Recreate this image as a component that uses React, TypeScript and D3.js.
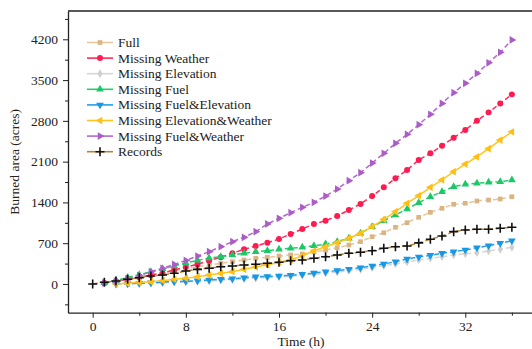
import {useEffect, useRef} from "react";
import * as d3 from "d3";

const SvgWidth = 532;
const SvgHeight = 349;

// hours 0..36, null where the series has no point
const hours = d3.range(0, 37);

const fullVals = [null, 12, 42, 78, 115, 155, 192, 228, 262, 295, 326, 355, 383, 412, 441, 458, 480, 498, 515, 554, 583, 623, 669, 726, 812, 880, 973, 1052, 1145, 1230, 1299, 1368, 1385, 1424, 1441, 1459, 1498];
const weatherVals = [null, 15, 45, 80, 115, 150, 190, 240, 290, 340, 400, 460, 527, 595, 652, 709, 772, 858, 944, 1030, 1086, 1167, 1270, 1373, 1510, 1659, 1814, 1956, 2130, 2243, 2373, 2511, 2643, 2802, 2946, 3100, 3255];
const elevationVals = [null, null, 0, 3, 8, 15, 22, 30, 36, 45, 55, 64, 75, 88, 102, 110, 120, 132, 148, 166, 186, 205, 228, 252, 280, 310, 345, 378, 412, 440, 468, 498, 520, 537, 566, 595, 630];
const fuelVals = [null, 20, 60, 110, 160, 210, 260, 310, 360, 405, 445, 468, 498, 527, 554, 571, 595, 613, 630, 655, 686, 726, 784, 870, 983, 1086, 1184, 1287, 1395, 1498, 1584, 1670, 1711, 1728, 1745, 1756, 1785];
const fuelElevVals = [null, null, 0, 5, 12, 22, 32, 40, 46, 57, 69, 80, 91, 108, 125, 130, 137, 150, 166, 188, 211, 230, 255, 280, 309, 343, 383, 429, 463, 492, 527, 554, 583, 623, 657, 698, 743];
const elevWeatherVals = [null, null, 0, 12, 29, 40, 57, 81, 98, 125, 154, 184, 211, 252, 290, 330, 370, 415, 480, 570, 640, 709, 784, 870, 983, 1110, 1241, 1385, 1515, 1659, 1785, 1927, 2059, 2184, 2322, 2471, 2613];
const fuelWeatherVals = [null, 20, 50, 90, 145, 211, 270, 335, 405, 480, 554, 640, 726, 801, 898, 1030, 1127, 1224, 1316, 1402, 1510, 1630, 1773, 1910, 2075, 2243, 2414, 2569, 2735, 2912, 3100, 3283, 3444, 3615, 3797, 3976, 4190];
const recordVals = [0, 29, 51, 81, 108, 137, 154, 184, 223, 250, 269, 297, 309, 326, 338, 355, 372, 400, 412, 441, 468, 498, 527, 544, 571, 613, 640, 652, 705, 767, 824, 898, 927, 939, 939, 956, 973];

const yMajor = [0, 700, 1400, 2100, 2800, 3500, 4200];
const yMinor = [-350, 350, 1050, 1750, 2450, 3150, 3850, 4550];
const xMajor = [0, 8, 16, 24, 32];
const xMinor = [4, 12, 20, 28, 36];

const series = [
    {name: "Full", values: fullVals, line: "#e6c69c", fill: "#dbb483", shape: "square", dash: "5,3"},
    {name: "Missing Weather", values: weatherVals, line: "#ff2a5a", fill: "#ff1a4f", shape: "circle", dash: "5,3"},
    {name: "Missing Elevation", values: elevationVals, line: "#d6d6d6", fill: "#cfcfcf", shape: "diamond", dash: "5,3"},
    {name: "Missing Fuel", values: fuelVals, line: "#22cf6d", fill: "#1cc866", shape: "up", dash: "5,3"},
    {name: "Missing Fuel&Elevation", values: fuelElevVals, line: "#22a0ea", fill: "#1797e4", shape: "down", dash: "5,3"},
    {name: "Missing Elevation&Weather", values: elevWeatherVals, line: "#ffc51f", fill: "#ffbf14", shape: "left", dash: null},
    {name: "Missing Fuel&Weather", values: fuelWeatherVals, line: "#b469cc", fill: "#ab5cc6", shape: "right", dash: "5,3"},
    {name: "Records", values: recordVals, line: "#b3823c", fill: "#111111", shape: "plus", dash: "5,3"},
];

const fontFamily = "'Liberation Serif', 'Times New Roman', serif";

function markerPath(shape) {
    if (shape === "square") return d3.symbol(d3.symbolSquare, 22)();
    if (shape === "circle") return d3.symbol(d3.symbolCircle, 28)();
    if (shape === "diamond") return d3.symbol(d3.symbolDiamond, 22)();
    if (shape === "plus") return "M-4.5,0L4.5,0M0,-4.5L0,4.5";
    return d3.symbol(d3.symbolTriangle, 26)();
}

function markerRotate(shape) {
    if (shape === "down") return 180;
    if (shape === "left") return -90;
    if (shape === "right") return 90;
    return 0;
}

function Marker({shape, fill, x, y}: any) {
    const d = markerPath(shape);
    if (shape === "plus") {
        return <path d={d} transform={`translate(${x},${y})`} stroke={fill} strokeWidth={1.6} fill="none"/>;
    }
    return <path d={d} transform={`translate(${x},${y}) rotate(${markerRotate(shape)})`} fill={fill}/>;
}

function App() {
    const xAxisRef = useRef(null);
    const xMinorRef = useRef(null);
    const yAxisRef = useRef(null);
    const yMinorRef = useRef(null);

    const left = 68;
    const bottom = 312.7;
    const top = 11;

    const xScale = d3.scaleLinear().domain([-2.12, 37.9]).range([left, 534]);
    const yScale = d3.scaleLinear().domain([-493, 4686]).range([bottom, top]);

    useEffect(() => {
        const styleAxis = (g, size) => {
            g.selectAll("path").attr("stroke", "#222").attr("stroke-width", 1.3);
            g.selectAll("line").attr("stroke", "#222").attr("stroke-width", 1);
            g.selectAll("text")
                .attr("font-family", fontFamily)
                .attr("font-size", size)
                .attr("fill", "#222");
        };
        const xa = d3.select(xAxisRef.current);
        xa.call(d3.axisBottom(xScale).tickValues(xMajor).tickFormat(d3.format("d")).tickSize(5).tickSizeOuter(0).tickPadding(4));
        styleAxis(xa, 13.5);
        const xm = d3.select(xMinorRef.current);
        xm.call(d3.axisBottom(xScale).tickValues(xMinor).tickSize(3).tickSizeOuter(0).tickFormat(() => ""));
        styleAxis(xm, 13);
        xm.select("path").remove();

        const ya = d3.select(yAxisRef.current);
        ya.call(d3.axisLeft(yScale).tickValues(yMajor).tickFormat(d3.format("d")).tickSize(5).tickSizeOuter(0).tickPadding(5));
        styleAxis(ya, 13.5);
        const ym = d3.select(yMinorRef.current);
        ym.call(d3.axisLeft(yScale).tickValues(yMinor).tickSize(3).tickSizeOuter(0).tickFormat(() => ""));
        styleAxis(ym, 13);
        ym.select("path").remove();
    }, []);

    const lineGen = d3.line()
        // @ts-ignore
        .defined((d) => d[1] !== null)
        // @ts-ignore
        .x((d) => xScale(d[0]))
        // @ts-ignore
        .y((d) => yScale(d[1]));

    return (
        <svg width={SvgWidth} height={SvgHeight} style={{position: "absolute", left: 0, top: 0}}>
            <line x1={left} x2={SvgWidth} y1={top} y2={top} stroke="#222" strokeWidth={1.3}/>

            {series.map((s) => {
                const pts = hours.map((h, i) => [h, s.values[i]]);
                return (
                    <g key={s.name}>
                        <path
                            // @ts-ignore
                            d={lineGen(pts)}
                            fill="none"
                            stroke={s.line}
                            strokeWidth={1.5}
                            strokeDasharray={s.dash || undefined}
                        />
                        {pts.filter((p) => p[1] !== null).map((p) => (
                            <Marker key={p[0]} shape={s.shape} fill={s.fill} x={xScale(p[0])} y={yScale(p[1])}/>
                        ))}
                    </g>
                );
            })}

            <g ref={xAxisRef} transform={`translate(0,${bottom})`}></g>
            <g ref={xMinorRef} transform={`translate(0,${bottom})`}></g>
            <g ref={yAxisRef} transform={`translate(${left},0)`}></g>
            <g ref={yMinorRef} transform={`translate(${left},0)`}></g>

            <g transform={"translate(87, 42.5)"}>
                {series.map((s, i) => (
                    <g key={s.name} transform={`translate(0, ${i * 15.6})`}>
                        <line x1={0} x2={26} y1={0} y2={0} stroke={s.line} strokeWidth={1.6}/>
                        <Marker shape={s.shape} fill={s.fill} x={13} y={0}/>
                        <text x={31} y={4.5} fontSize={13.5} fontFamily={fontFamily} fill="#222">
                            {s.name}
                        </text>
                    </g>
                ))}
            </g>

            <text
                transform={`translate(19, ${(top + bottom) / 2}) rotate(-90)`}
                textAnchor="middle"
                fontSize={13.5}
                fontFamily={fontFamily}
                fill="#222"
            >
                Burned area (acres)
            </text>
            <text x={301} y={346} textAnchor="middle" fontSize={13.5} fontFamily={fontFamily} fill="#222">
                Time (h)
            </text>
        </svg>
    );
}

export default App;
